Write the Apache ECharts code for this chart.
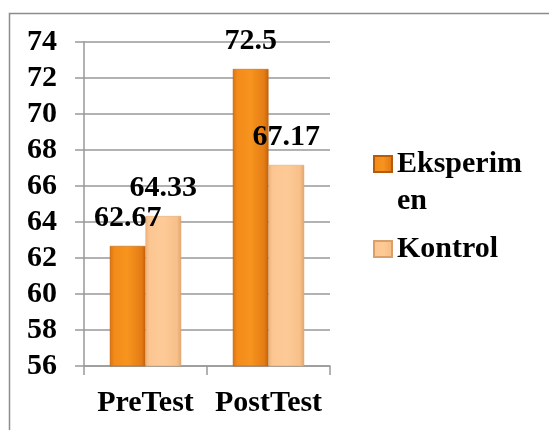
<!DOCTYPE html>
<html>
<head>
<meta charset="utf-8">
<script src="https://cdn.jsdelivr.net/npm/echarts@6/dist/echarts.min.js"></script>
<style>
  html, body { margin: 0; padding: 0; background: #fff; }
  #chart { width: 549px; height: 430px; }
</style>
</head>
<body>
<div id="chart"></div>
<script>
var categories = ["PreTest", "PostTest"];
var seriesNames = ["Eksperimen", "Kontrol"];
var eksperimen = [62.67, 72.5];
var kontrol = [64.33, 67.17];
var yTicks = { min: 56, max: 74, interval: 2 };

var font = '"Liberation Serif", "Times New Roman", serif';
var chart = echarts.init(document.getElementById("chart"));

// excel-ish shaded bars
var orange = new echarts.graphic.LinearGradient(0, 0, 1, 0, [
  { offset: 0, color: "#d9730f" },
  { offset: 0.12, color: "#f38b1a" },
  { offset: 0.5, color: "#f7941e" },
  { offset: 0.88, color: "#e47c14" },
  { offset: 1, color: "#c4620c" },
]);
var peach = new echarts.graphic.LinearGradient(0, 0, 1, 0, [
  { offset: 0, color: "#f0b47c" },
  { offset: 0.12, color: "#fcc692" },
  { offset: 0.5, color: "#fdca97" },
  { offset: 0.88, color: "#f8c08a" },
  { offset: 1, color: "#e3a56d" },
]);

var labelStyle = {
  show: true,
  position: "top",
  distance: 13,
  color: "#000",
  fontFamily: font,
  fontWeight: "bold",
  fontSize: 30,
};

chart.setOption({
  backgroundColor: "#fff",
  animation: false,
  grid: { left: 84, right: 219, top: 42, bottom: 64 },
  legend: {
    orient: "vertical",
    left: 368,
    top: 144,
    itemWidth: 18,
    itemHeight: 16,
    itemGap: 55,
    icon: "rect",
    data: seriesNames,
    formatter: function (name) {
      return name === "Eksperimen" ? "Eksperim" : name;
    },
    textStyle: {
      color: "#000",
      fontFamily: font,
      fontWeight: "bold",
      fontSize: 30,
    },
  },
  graphic: [
    {
      type: "rect",
      left: 7,
      top: 11,
      shape: { width: 560, height: 440 },
      style: { fill: "none", stroke: "#8c8c8c", lineWidth: 1.5 },
      silent: true,
    },
    {
      type: "text",
      left: 397,
      top: 186,
      style: {
        text: "en",
        fill: "#000",
        font: "bold 30px " + font,
      },
    },
  ],
  xAxis: {
    type: "category",
    data: categories,
    axisLine: { lineStyle: { color: "#999", width: 1.5 } },
    axisTick: { show: true, length: 9, lineStyle: { color: "#999", width: 1.5 } },
    axisLabel: {
      interval: 0,
      hideOverlap: false,
      margin: 22,
      color: "#000",
      fontFamily: font,
      fontWeight: "bold",
      fontSize: 30,
    },
  },
  yAxis: {
    type: "value",
    min: yTicks.min,
    max: yTicks.max,
    interval: yTicks.interval,
    axisLine: { show: true, lineStyle: { color: "#999", width: 1.5 } },
    axisTick: { show: true, length: 9, lineStyle: { color: "#999", width: 1.5 } },
    splitLine: { lineStyle: { color: "#999", width: 1.5 } },
    axisLabel: {
      margin: 27,
      color: "#000",
      fontFamily: font,
      fontWeight: "bold",
      fontSize: 30,
    },
  },
  series: [
    {
      name: seriesNames[0],
      type: "bar",
      data: eksperimen,
      barWidth: "29%",
      barGap: "0%",
      itemStyle: { color: orange, borderColor: "#b85a0b", borderWidth: 0.5 },
      label: labelStyle,
    },
    {
      name: seriesNames[1],
      type: "bar",
      data: kontrol,
      barWidth: "29%",
      barGap: "0%",
      itemStyle: { color: peach, borderColor: "#dba06a", borderWidth: 0.5 },
      label: labelStyle,
    },
  ],
});
</script>
</body>
</html>
